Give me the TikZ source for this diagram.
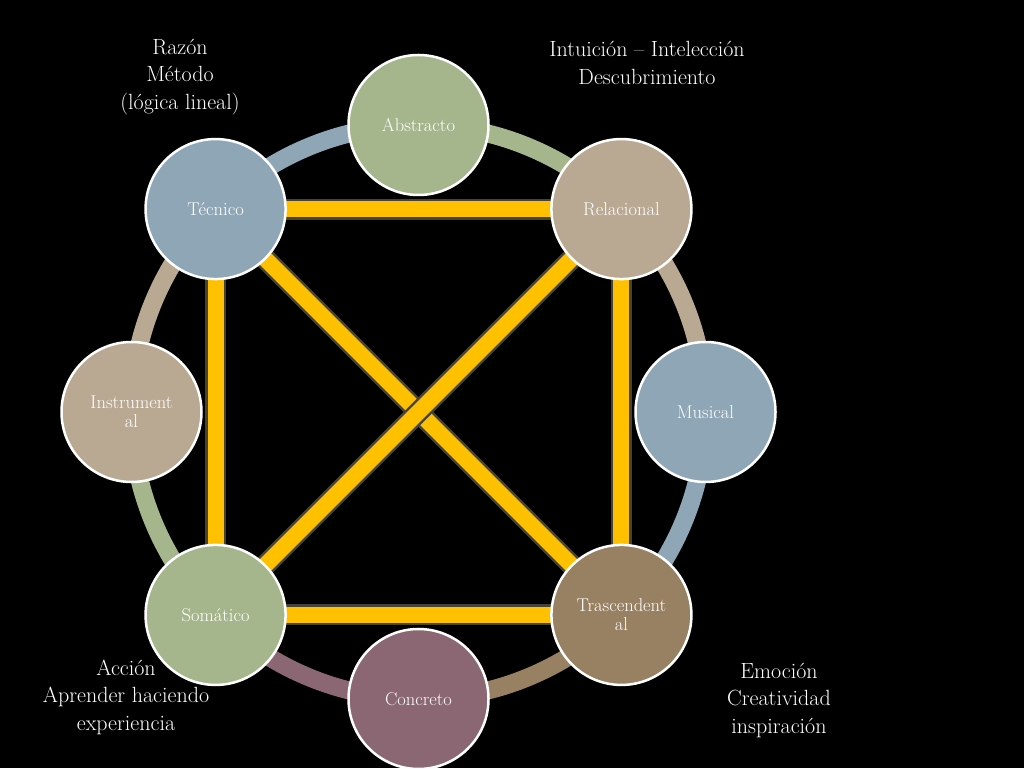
\documentclass[tikz,border=0pt]{standalone}
\usepackage{fontspec}
\usetikzlibrary{calc}
\begin{document}
\begin{tikzpicture}[x=1pt,y=1pt,
  cbase/.style={circle,minimum size=140pt,inner sep=0pt,draw=white,line width=2.5pt,text=white,font=\fontsize{18.5}{19}\selectfont,align=center},
  cblue/.style={cbase,fill=cblueC},
  cgreen/.style={cbase,fill=cgreenC},
  ctan/.style={cbase,fill=ctanC},
  cbrown/.style={cbase,fill=cbrownC},
  cmauve/.style={cbase,fill=cmauveC},
  ring/.style={line width=18pt},
  bar/.style={draw=barline,line width=2.5pt,double=gold,double distance=16pt},
  lbl/.style={text=white,align=center,font=\fontsize{22}{27.5}\selectfont}
]
\definecolor{cblueC}{HTML}{8EA6B6}
\definecolor{cgreenC}{HTML}{A5B58C}
\definecolor{ctanC}{HTML}{B9A892}
\definecolor{cbrownC}{HTML}{988062}
\definecolor{cmauveC}{HTML}{8A6773}
\definecolor{gold}{HTML}{FFC000}
\definecolor{barline}{HTML}{45443C}
\fill[black] (0,0) rectangle (1024,768);
\useasboundingbox (0,0) rectangle (1024,768);
\coordinate (O) at (418.5,356);
% ring
\draw[ring,cblueC]  ($(O)+(135:287)$) arc (135:90:287);
\draw[ring,cgreenC] ($(O)+(90:287)$) arc (90:45:287);
\draw[ring,ctanC]   ($(O)+(45:287)$) arc (45:0:287);
\draw[ring,cblueC]  ($(O)+(0:287)$) arc (0:-45:287);
\draw[ring,cbrownC] ($(O)+(-45:287)$) arc (-45:-90:287);
\draw[ring,cmauveC] ($(O)+(-90:287)$) arc (-90:-135:287);
\draw[ring,cgreenC] ($(O)+(-135:287)$) arc (-135:-180:287);
\draw[ring,ctanC]   ($(O)+(180:287)$) arc (180:135:287);
% node positions
\coordinate (pA) at ($(O)+(90:287)$);
\coordinate (pR) at ($(O)+(45:287)$);
\coordinate (pM) at ($(O)+(0:287)$);
\coordinate (pT) at ($(O)+(-45:287)$);
\coordinate (pC) at ($(O)+(-90:287)$);
\coordinate (pS) at ($(O)+(-135:287)$);
\coordinate (pI) at ($(O)+(180:287)$);
\coordinate (pTe) at ($(O)+(135:287)$);
% bars
\draw[bar] (pTe) -- (pR);
\draw[bar] (pR) -- (pT);
\draw[bar] (pT) -- (pS);
\draw[bar] (pS) -- (pTe);
\draw[bar] (pTe) -- (pT);
\draw[bar] (pR) -- (pS);
% circles
\node[cgreen] (abs) at (pA) {Abstracto};
\node[ctan]   (rel) at (pR) {Relacional};
\node[cblue]  (mus) at (pM) {Musical};
\node[cbrown] (tra) at (pT) {Trascendent\\al};
\node[cmauve] (con) at (pC) {Concreto};
\node[cgreen] (som) at (pS) {Somático};
\node[ctan]   (ins) at (pI) {Instrument\\al};
\node[cblue]  (tec) at (pTe) {Técnico};
% labels
\node[lbl] (l1) at (180,691) {Razón\\Método\\(lógica lineal)};
\node[lbl] (l2) at (647,705) {Intuición – Intelección\\Descubrimiento};
\node[lbl] (l3) at (126,71) {Acción\\Aprender haciendo\\experiencia};
\node[lbl] (l4) at (779,68) {Emoción\\Creatividad\\inspiración};
\end{tikzpicture}
\end{document}
